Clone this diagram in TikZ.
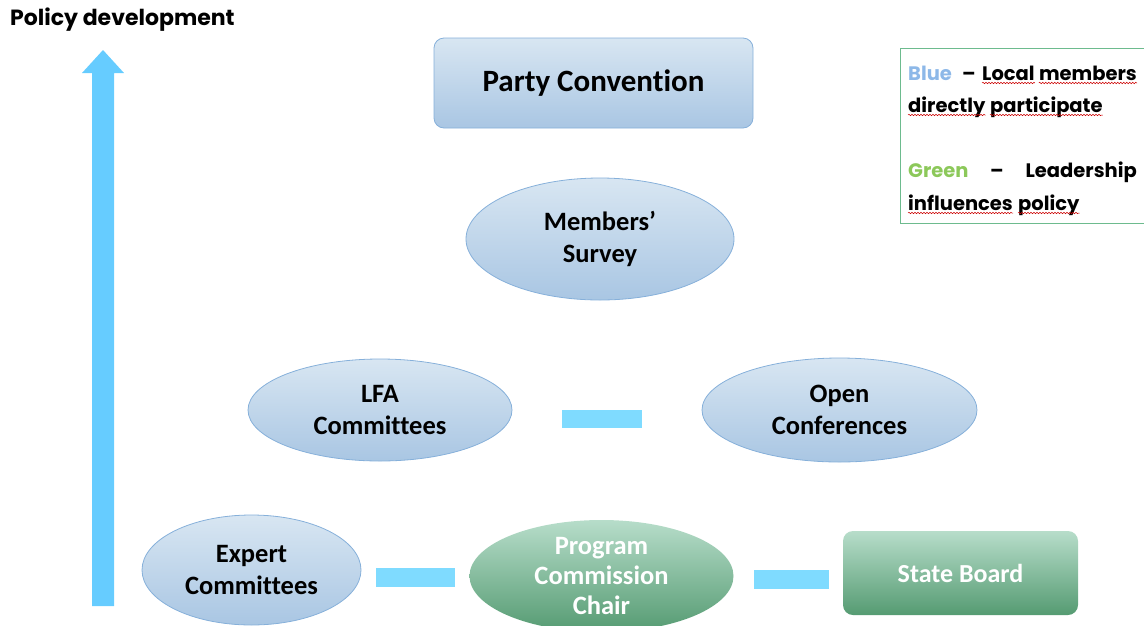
\documentclass[tikz,border=0pt]{standalone}
\usepackage{fontspec}
\setmainfont{Carlito}[Ligatures=NoCommon]
\newfontfamily\geo{Poppins}
\usetikzlibrary{shapes.geometric,decorations.pathmorphing}
\definecolor{bluetop}{HTML}{D8E6F2}
\definecolor{bluebot}{HTML}{A9C6E3}
\definecolor{blueedge}{HTML}{86B0DA}
\definecolor{greentop}{HTML}{B7DDCA}
\definecolor{greenbot}{HTML}{559B72}
\definecolor{baracol}{HTML}{7FDBFF}
\definecolor{arrowcol}{HTML}{66CCFF}
\definecolor{legblue}{HTML}{8DB8E8}
\definecolor{leggreen}{HTML}{8CC85A}
\definecolor{legedge}{HTML}{6DBB8E}
\tikzset{
  blueell/.style={ellipse, draw=blueedge, line width=0.8pt, top color=bluetop, bottom color=bluebot,
    font=\fontsize{26.5}{32}\selectfont\bfseries, align=center, inner sep=0pt},
  bluebox/.style={rounded corners=10pt, draw=blueedge, line width=0.8pt, top color=bluetop, bottom color=bluebot,
    font=\fontsize{31}{36}\selectfont\bfseries, align=center, inner sep=0pt},
  greenell/.style={ellipse, draw=none, top color=greentop, bottom color=greenbot, text=white,
    font=\fontsize{26.5}{30}\selectfont\bfseries, align=center, inner sep=0pt},
  greenbox/.style={rounded corners=10pt, draw=none, top color=greentop, bottom color=greenbot, text=white,
    font=\fontsize{26}{30}\selectfont\bfseries, align=center, inner sep=0pt},
  barpiece/.style={fill=baracol, draw=none},
  legword/.style={anchor=base west, inner sep=0pt, font=\geo\fontsize{19.5}{23}\selectfont\bfseries},
  wavy/.style={draw=red!80!black, line width=0.5pt, decorate, decoration={snake, amplitude=0.7pt, segment length=3pt}}
}
\begin{document}
\begin{tikzpicture}[x=1pt,y=-1pt]
\useasboundingbox (0,0) rectangle (1144,625);
% title
\node[anchor=west, inner sep=0pt, font=\geo\fontsize{22}{26}\selectfont\bfseries] (title) at (10,20) {Policy development};
% arrow
\fill[arrowcol] (92,606) -- (114,606) -- (114,73) -- (124,73) -- (103,50) -- (82,73) -- (92,73) -- cycle;
% nodes
\node[bluebox, minimum width=319pt, minimum height=90pt] (party) at (593.5,83) {Party Convention};
\node[blueell, minimum width=268pt, minimum height=122pt] (survey) at (600,239) {Members'\\Survey};
\node[blueell, minimum width=264pt, minimum height=102pt] (lfa) at (380,410) {LFA\\Committees};
\node[blueell, minimum width=275pt, minimum height=104pt] (open) at (839.5,410) {Open\\Conferences};
\node[blueell, minimum width=219pt, minimum height=110pt] (expert) at (251.5,570) {Expert\\Committees};
\node[greenell, minimum width=264pt, minimum height=112pt] (chair) at (601.5,576) {Program\\Commission\\Chair};
\node[greenbox, minimum width=235pt, minimum height=84pt] (state) at (960.5,573) {State Board};
% separator bars
\fill[barpiece] (562,410) rectangle (642,428);
\fill[barpiece] (376,568) rectangle (455,587);
\fill[barpiece] (754,570) rectangle (829,589);
% legend
\draw[legedge, line width=0.8pt] (1150,48) -- (900.5,48) -- (900.5,223) -- (1150,223);
\node[legword, text=legblue] (w1) at (908,80) {Blue};
\node[legword] (w2) at (962,80) {–};
\node[legword] (w3) at (982,80) {Local};
\node[legword, anchor=base east] (w4) at (1137,80) {members};
\node[legword] (w5) at (908,112) {directly};
\node[legword] (w6) at (990,112) {participate};
\node[legword, text=leggreen] (w7) at (908,177) {Green};
\node[legword] (w8) at (990,177) {–};
\node[legword, anchor=base east] (w9) at (1137,177) {Leadership};
\node[legword] (w10) at (908,210) {influences};
\node[legword] (w11) at (1018,210) {policy};
\foreach \w in {w3,w4,w5,w6,w10,w11}{
  \draw[wavy] ([yshift=-3pt]\w.base west) -- ([yshift=-3pt]\w.base east);
}
\end{tikzpicture}
\end{document}
